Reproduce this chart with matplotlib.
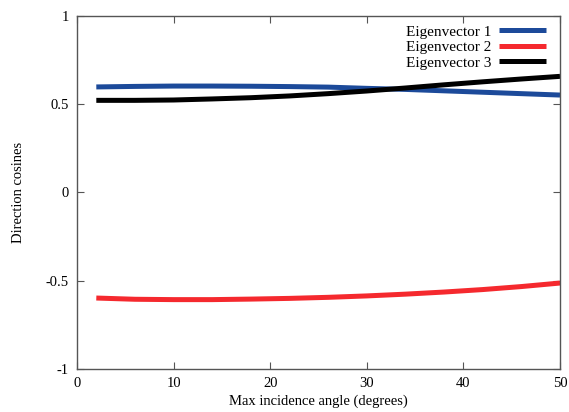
import matplotlib
matplotlib.use("Agg")
import matplotlib.pyplot as plt

# values
angle = [2, 6, 10, 14, 18, 22, 26, 30, 34, 38, 42, 46, 50]
eig1 = [0.598, 0.601, 0.603, 0.603, 0.602, 0.600, 0.597, 0.590, 0.584, 0.576, 0.568, 0.560, 0.552]
eig2 = [-0.598, -0.605, -0.607, -0.607, -0.604, -0.600, -0.594, -0.586, -0.576, -0.564, -0.550, -0.533, -0.513]
eig3 = [0.522, 0.522, 0.524, 0.530, 0.537, 0.547, 0.560, 0.575, 0.592, 0.610, 0.627, 0.643, 0.658]

xticks = [0, 10, 20, 30, 40, 50]
yticks = [-1, -0.5, 0, 0.5, 1]
ytick_labels = ["-1", "-0.5", "0", "0.5", "1"]

plt.rcParams["font.family"] = ["Liberation Serif", "DejaVu Serif"]
plt.rcParams["font.size"] = 10.5
plt.rcParams["axes.unicode_minus"] = False

fig = plt.figure(figsize=(5.69, 4.12), dpi=100)
ax = fig.add_axes([0.1353, 0.1044, 0.8489, 0.8568])

ax.plot(angle, eig1, color="#1c4a9a", lw=3.6, label="Eigenvector 1", solid_capstyle="butt")
ax.plot(angle, eig2, color="#f5292e", lw=3.6, label="Eigenvector 2", solid_capstyle="butt")
ax.plot(angle, eig3, color="black", lw=3.6, label="Eigenvector 3", solid_capstyle="butt")

ax.set_xlim(0, 50)
ax.set_ylim(-1, 1)
ax.set_xticks(xticks)
ax.set_yticks(yticks)
ax.set_yticklabels(ytick_labels)
ax.tick_params(direction="in", length=5, width=0.8, color="#555555",
               top=True, right=True, pad=6)
for s in ax.spines.values():
    s.set_color("#555555")
    s.set_linewidth(1.0)

ax.set_xlabel("Max incidence angle (degrees)", labelpad=3)
ax.set_ylabel("Direction cosines", labelpad=15)

ax.legend(loc="upper right", bbox_to_anchor=(0.971, 0.975), frameon=False,
          markerfirst=False, fontsize=11, handlelength=3.05, labelspacing=0.12,
          borderaxespad=0, borderpad=0, handletextpad=0.52)

fig.savefig("out.png", dpi=100)
